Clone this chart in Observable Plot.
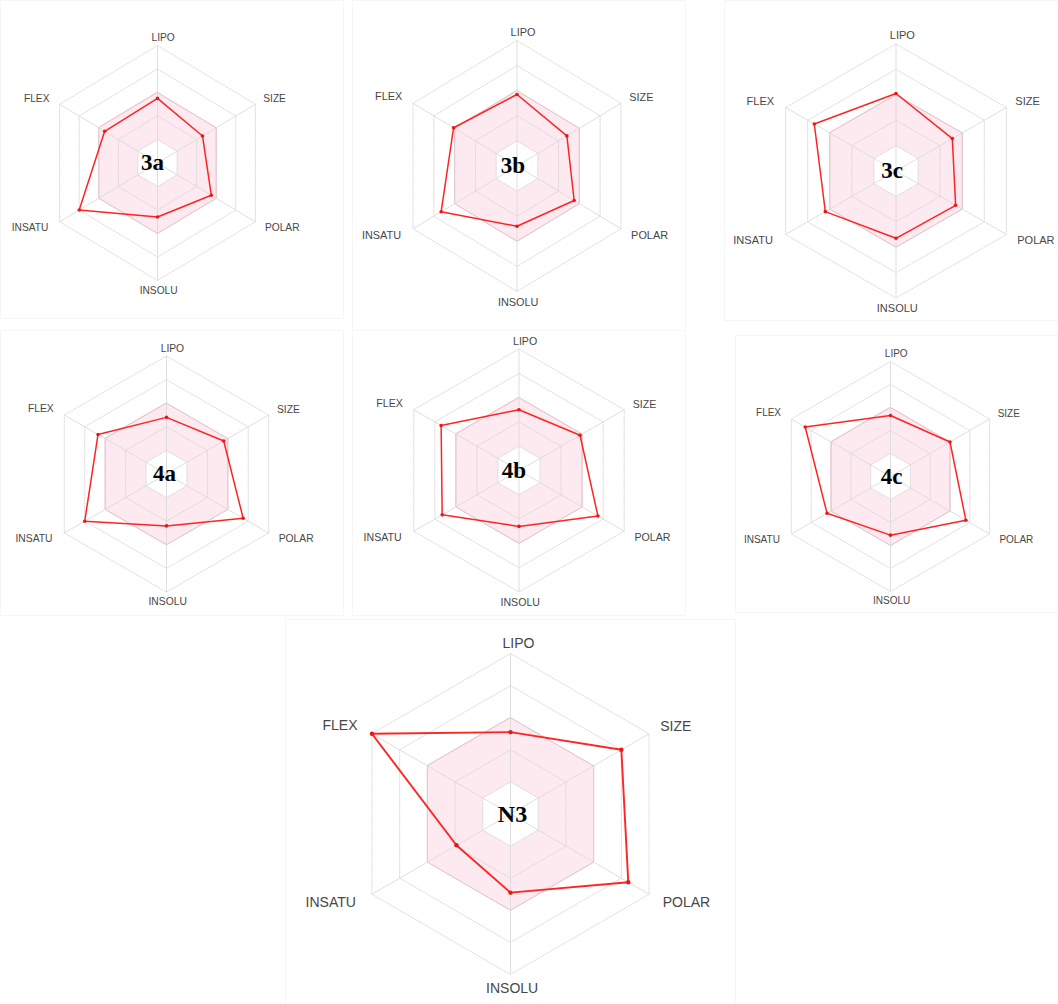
<!DOCTYPE html>
<html>
<head>
<meta charset="utf-8">
<script src="https://cdn.jsdelivr.net/npm/d3@7"></script>
<script src="https://cdn.jsdelivr.net/npm/@observablehq/plot@0.6"></script>
<style>
  body { margin: 0; background: #fff; }
  #page { position: relative; width: 1058px; height: 1004px; overflow: hidden; background: #fff; }
  #page svg { position: absolute; overflow: visible; }
</style>
</head>
<body>
<div id="page"></div>
<script>
// Bioavailability radar axes, clockwise from the top
const axisNames = ["LIPO", "SIZE", "POLAR", "INSOLU", "INSATU", "FLEX"];

// Compound labels
const compounds = ["3a", "3b", "3c", "4a", "4b", "4c", "N3"];

// Normalised scores (0 = centre, 1 = outer ring), in axisNames order
const scores3a = [0.55, 0.46, 0.55, 0.46, 0.80, 0.54];
const scores3b = [0.57, 0.48, 0.55, 0.48, 0.73, 0.61];
const scores3c = [0.61, 0.51, 0.54, 0.53, 0.64, 0.74];
const scores4a = [0.48, 0.56, 0.75, 0.44, 0.80, 0.67];
const scores4b = [0.50, 0.58, 0.75, 0.46, 0.73, 0.74];
const scores4c = [0.53, 0.60, 0.76, 0.51, 0.64, 0.86];
const scoresN3 = [0.51, 0.80, 0.85, 0.49, 0.39, 1.00];

// Grid rings and the optimal (pink) band
const gridLevels = [0.2, 0.4, 0.6, 0.8, 1.0];
const optimalBand = [0.2, 0.6];

const scoresByCompound = {
  "3a": scores3a, "3b": scores3b, "3c": scores3c,
  "4a": scores4a, "4b": scores4b, "4c": scores4c, "N3": scoresN3
};

// Panel boxes on the page and radar centre / radius in page pixels
const panels = {
  "3a": {box: [0, 0, 343, 318],    cx: 157,   cy: 162.5, rx: 113,   ry: 117.5, tdx: -5},
  "3b": {box: [352, 0, 685, 330],  cx: 516.5, cy: 165.5, rx: 120,   ry: 125.5, tdx: -4},
  "3c": {box: [724, 0, 1058, 320], cx: 895.5, cy: 170.5, rx: 127.5, ry: 127,   tdx: -4},
  "4a": {box: [0, 330, 343, 615],  cx: 166,   cy: 473.5, rx: 118,   ry: 118,   tdx: -2},
  "4b": {box: [352, 330, 685, 615],cx: 518.5, cy: 470,   rx: 121.5, ry: 121.5, tdx: -5},
  "4c": {box: [735, 335, 1058, 612], cx: 890, cy: 476,   rx: 114.5, ry: 115,   tdx: 1},
  "N3": {box: [285, 619, 735, 1004], cx: 510, cy: 813.5, rx: 160,   ry: 160.5, tdx: 2}
};

// Where each axis label sits relative to its outer vertex (in radius units)
const labelPlacement = {
  LIPO:   {anchor: "middle", ox: 0.05,  oy: 0.065},
  SIZE:   {anchor: "start",  ox: 0.07,  oy: 0.045},
  POLAR:  {anchor: "start",  ox: 0.085, oy: -0.05},
  INSOLU: {anchor: "middle", ox: 0.01,  oy: -0.085},
  INSATU: {anchor: "end",    ox: -0.10, oy: -0.05},
  FLEX:   {anchor: "end",    ox: -0.09, oy: 0.05}
};

const angleOf = (i) => i * Math.PI / 3;
const hexagon = (level) => axisNames.map((a, i) => ({
  level, x: level * Math.sin(angleOf(i)), y: level * Math.cos(angleOf(i))
}));

const page = document.getElementById("page");

for (const name of compounds) {
  const p = panels[name];
  const [bx0, by0, bx1, by1] = p.box;
  const w = bx1 - bx0, h = by1 - by0;
  const cx = p.cx - bx0, cy = p.cy - by0;
  const fontSize = Math.round(p.ry * 0.087 * 10) / 10;
  const lineWidth = name === "N3" ? 1.9 : 1.5;

  const points = scoresByCompound[name].map((v, i) => ({
    axis: axisNames[i], value: v,
    x: v * Math.sin(angleOf(i)), y: v * Math.cos(angleOf(i))
  }));
  const rings = gridLevels.flatMap(hexagon);
  const spokes = axisNames.map((a, i) => ({x: Math.sin(angleOf(i)), y: Math.cos(angleOf(i))}));

  const labelMarks = axisNames.map((a, i) => {
    const lp = labelPlacement[a];
    return Plot.text([a], {
      x: () => Math.sin(angleOf(i)) + lp.ox,
      y: () => Math.cos(angleOf(i)) + lp.oy,
      text: (d) => d,
      textAnchor: lp.anchor,
      fontSize,
      fill: "#474747",
      fontFamily: "Liberation Sans, Arial, sans-serif"
    });
  });

  const svg = Plot.plot({
    width: w,
    height: h,
    margin: 0,
    style: {background: "transparent", overflow: "visible"},
    x: {domain: [-1, 1], range: [cx - p.rx, cx + p.rx], axis: null},
    y: {domain: [-1, 1], range: [cy + p.ry, cy - p.ry], axis: null},
    marks: [
      Plot.frame({stroke: "#f6f6f6"}),
      // optimal band
      Plot.line(hexagon(optimalBand[1]), {x: "x", y: "y", curve: "linear-closed",
        fill: "#fdeaf0", stroke: "#f3b3c4", strokeWidth: 1}),
      Plot.line(hexagon(optimalBand[0]), {x: "x", y: "y", curve: "linear-closed",
        fill: "#ffffff", stroke: "none"}),
      // grid
      Plot.line(rings, {x: "x", y: "y", z: "level", curve: "linear-closed",
        stroke: "#d6d6d6", strokeWidth: 0.8, strokeDasharray: "2,1.2"}),
      Plot.link(spokes, {x1: 0, y1: 0, x2: "x", y2: "y", stroke: "#dadada", strokeWidth: 0.9}),
      // compound profile
      Plot.line(points, {x: "x", y: "y", curve: "linear-closed",
        stroke: "#ff2424", strokeWidth: lineWidth}),
      Plot.dot(points, {x: "x", y: "y", r: name === "N3" ? 2.2 : 1.8, fill: "#e81818", stroke: "none"}),
      ...labelMarks,
      Plot.text([name], {x: () => 0, y: () => 0, text: (d) => d, dx: p.tdx,
        fontSize: name === "N3" ? 24 : 23, fontWeight: "bold", fill: "#000",
        fontFamily: "Liberation Serif, Times New Roman, serif"})
    ]
  });
  svg.style.left = bx0 + "px";
  svg.style.top = by0 + "px";
  page.appendChild(svg);
}
</script>
</body>
</html>
